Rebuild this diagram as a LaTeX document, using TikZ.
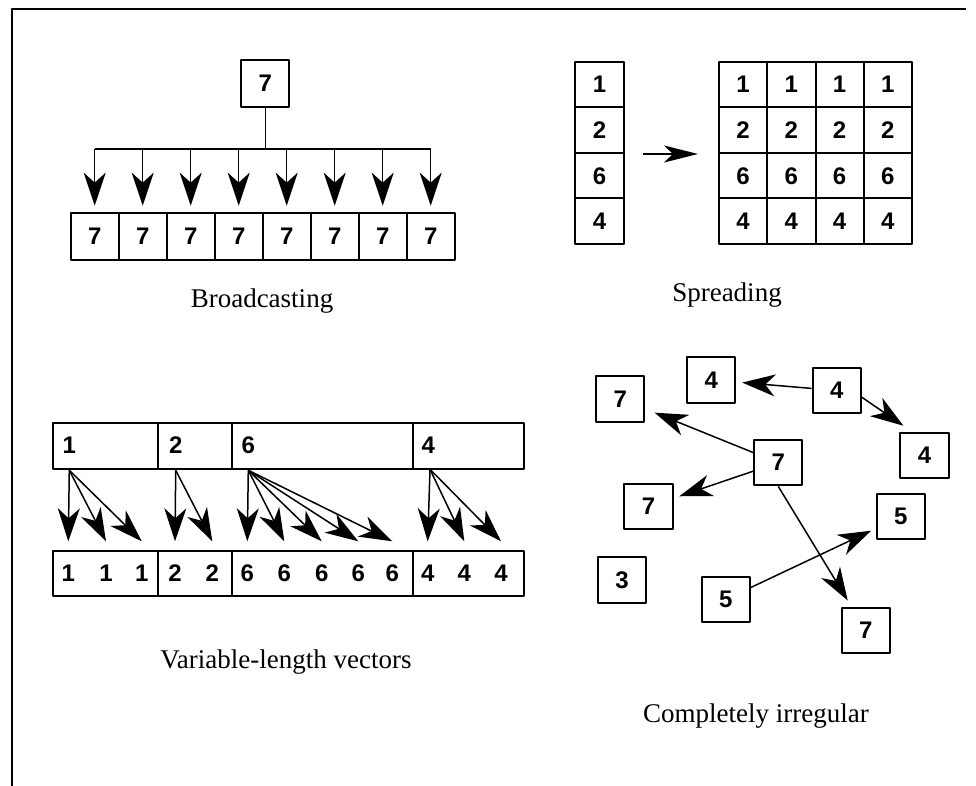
\documentclass[tikz,border=0pt]{standalone}
\usepackage{fontspec}
\setmainfont{Liberation Serif}
\setsansfont{Liberation Sans}
\usetikzlibrary{arrows.meta}
\begin{document}
\begin{tikzpicture}[>={Stealth[length=33bp,width=22bp,inset=10bp]},line join=bevel,
  cell/.style={draw,line width=2bp,minimum width=48.2bp,minimum height=45.5bp,inner sep=0pt,font=\sffamily\bfseries\fontsize{24bp}{24bp}\selectfont},
  num/.style={inner sep=0pt,minimum height=45bp,font=\sffamily\bfseries\fontsize{24bp}{24bp}\selectfont},
  seg/.style={draw,line width=2bp,minimum height=46bp,inner sep=0pt},
  caption/.style={anchor=base,inner sep=0pt,font=\fontsize{27bp}{27bp}\selectfont},
  flow/.style={->,line width=1.5bp}]
\useasboundingbox (0bp,0bp) rectangle (976bp,786bp);
\draw[line width=2bp] (966bp,777bp) -- (11.7bp,777bp) -- (11.7bp,0bp);
%% broadcasting
\node (bc_src) at (265.3bp,702.7bp) [cell,minimum height=46.7bp] {7};
\node (bc_0) at (94.7bp,549.7bp) [cell,minimum height=47.3bp] {7};
\node (bc_1) at (142.7bp,549.7bp) [cell,minimum height=47.3bp] {7};
\node (bc_2) at (190.7bp,549.7bp) [cell,minimum height=47.3bp] {7};
\node (bc_3) at (238.7bp,549.7bp) [cell,minimum height=47.3bp] {7};
\node (bc_4) at (286.7bp,549.7bp) [cell,minimum height=47.3bp] {7};
\node (bc_5) at (334.7bp,549.7bp) [cell,minimum height=47.3bp] {7};
\node (bc_6) at (382.7bp,549.7bp) [cell,minimum height=47.3bp] {7};
\node (bc_7) at (430.7bp,549.7bp) [cell,minimum height=47.3bp] {7};
\coordinate (bc_l) at (94.7bp,637bp);
\coordinate (bc_r) at (430.7bp,637bp);
\draw [line width=1.5bp] (bc_src) -- (bc_src |- bc_l);
\draw [line width=1.5bp] (bc_l) -- (bc_r);
\draw [flow,shorten >=6bp] (bc_0 |- bc_l) -- (bc_0);
\draw [flow,shorten >=6bp] (bc_1 |- bc_l) -- (bc_1);
\draw [flow,shorten >=6bp] (bc_2 |- bc_l) -- (bc_2);
\draw [flow,shorten >=6bp] (bc_3 |- bc_l) -- (bc_3);
\draw [flow,shorten >=6bp] (bc_4 |- bc_l) -- (bc_4);
\draw [flow,shorten >=6bp] (bc_5 |- bc_l) -- (bc_5);
\draw [flow,shorten >=6bp] (bc_6 |- bc_l) -- (bc_6);
\draw [flow,shorten >=6bp] (bc_7 |- bc_l) -- (bc_7);
\node (cap_bc) at (262bp,478bp) [caption] {Broadcasting};
%% spreading
\node (sp_1) at (599.5bp,701.25bp) [cell,minimum width=49bp] {1};
\node (sp_2) at (599.5bp,655.75bp) [cell,minimum width=49bp] {2};
\node (sp_3) at (599.5bp,610.25bp) [cell,minimum width=49bp] {6};
\node (sp_4) at (599.5bp,564.75bp) [cell,minimum width=49bp] {4};
\node (sp_1_1) at (743.1bp,701.25bp) [cell] {1};
\node (sp_1_2) at (791.4bp,701.25bp) [cell] {1};
\node (sp_1_3) at (839.6bp,701.25bp) [cell] {1};
\node (sp_1_4) at (887.9bp,701.25bp) [cell] {1};
\node (sp_2_1) at (743.1bp,655.75bp) [cell] {2};
\node (sp_2_2) at (791.4bp,655.75bp) [cell] {2};
\node (sp_2_3) at (839.6bp,655.75bp) [cell] {2};
\node (sp_2_4) at (887.9bp,655.75bp) [cell] {2};
\node (sp_3_1) at (743.1bp,610.25bp) [cell] {6};
\node (sp_3_2) at (791.4bp,610.25bp) [cell] {6};
\node (sp_3_3) at (839.6bp,610.25bp) [cell] {6};
\node (sp_3_4) at (887.9bp,610.25bp) [cell] {6};
\node (sp_4_1) at (743.1bp,564.75bp) [cell] {4};
\node (sp_4_2) at (791.4bp,564.75bp) [cell] {4};
\node (sp_4_3) at (839.6bp,564.75bp) [cell] {4};
\node (sp_4_4) at (887.9bp,564.75bp) [cell] {4};
\draw [->,>={Stealth[length=34bp,width=17bp,inset=9bp]},line width=1.5bp,shorten <=18bp,shorten >=20bp] (sp_2.south east) -- (sp_2_1.south west);
\node (cap_sp) at (727bp,484bp) [caption] {Spreading};
%% variable-length vectors
\node (vl_t1) at (105.5bp,339.7bp) [seg,minimum width=105.6bp] {};
\node (vl_t2) at (195.3bp,339.7bp) [seg,minimum width=74bp] {};
\node (vl_t6) at (322.5bp,339.7bp) [seg,minimum width=180.4bp] {};
\node (vl_t4) at (468.5bp,339.7bp) [seg,minimum width=111.6bp] {};
\node (vl_l1) at (69.3bp,341bp) [num] {1};
\node (vl_l2) at (175.7bp,341bp) [num] {2};
\node (vl_l6) at (248.3bp,341bp) [num] {6};
\node (vl_l4) at (428.3bp,341bp) [num] {4};
\node (vl_b1) at (105.5bp,212.6bp) [seg,minimum width=105.6bp,minimum height=45.3bp] {};
\node (vl_b2) at (195.3bp,212.6bp) [seg,minimum width=74bp,minimum height=45.3bp] {};
\node (vl_b6) at (322.5bp,212.6bp) [seg,minimum width=180.4bp,minimum height=45.3bp] {};
\node (vl_b4) at (468.5bp,212.6bp) [seg,minimum width=111.6bp,minimum height=45.3bp] {};
\node (vl_d1_1) at (68.3bp,213bp) [num] {1};
\node (vl_d1_2) at (106bp,213bp) [num] {1};
\node (vl_d1_3) at (141.7bp,213bp) [num] {1};
\node (vl_d2_1) at (175bp,213bp) [num] {2};
\node (vl_d2_2) at (212.3bp,213bp) [num] {2};
\node (vl_d6_1) at (247.3bp,213bp) [num] {6};
\node (vl_d6_2) at (284.3bp,213bp) [num] {6};
\node (vl_d6_3) at (321.7bp,213bp) [num] {6};
\node (vl_d6_4) at (358.3bp,213bp) [num] {6};
\node (vl_d6_5) at (392.3bp,213bp) [num] {6};
\node (vl_d4_1) at (427.7bp,213bp) [num] {4};
\node (vl_d4_2) at (464.3bp,213bp) [num] {4};
\node (vl_d4_3) at (501bp,213bp) [num] {4};
\coordinate (vl_o1) at (vl_l1 |- vl_t1.south);
\coordinate (vl_o2) at (vl_l2 |- vl_t2.south);
\coordinate (vl_o6) at (vl_l6 |- vl_t6.south);
\coordinate (vl_o4) at (430bp,316.7bp);
\draw [flow] (vl_o1) -- ([yshift=9bp]vl_d1_1.north);
\draw [flow] (vl_o1) -- ([yshift=9bp]vl_d1_2.north);
\draw [flow] (vl_o1) -- ([yshift=9bp]vl_d1_3.north);
\draw [flow] (vl_o2) -- ([yshift=9bp]vl_d2_1.north);
\draw [flow] (vl_o2) -- ([yshift=9bp]vl_d2_2.north);
\draw [flow] (vl_o6) -- ([yshift=9bp]vl_d6_1.north);
\draw [flow] (vl_o6) -- ([yshift=9bp]vl_d6_2.north);
\draw [flow] (vl_o6) -- ([yshift=9bp]vl_d6_3.north);
\draw [flow] (vl_o6) -- ([yshift=9bp]vl_d6_4.north);
\draw [flow] (vl_o6) -- ([yshift=9bp]vl_d6_5.north);
\draw [flow] (vl_o4) -- ([yshift=9bp]vl_d4_1.north);
\draw [flow] (vl_o4) -- ([yshift=9bp]vl_d4_2.north);
\draw [flow] (vl_o4) -- ([yshift=9bp]vl_d4_3.north);
\node (cap_vl) at (286bp,117bp) [caption] {Variable-length vectors};
%% completely irregular
\node (ir_4a) at (711.2bp,406bp) [cell] {4};
\node (ir_4s) at (836.7bp,395.5bp) [cell] {4};
\node (ir_4b) at (924.5bp,330.5bp) [cell] {4};
\node (ir_7a) at (620.2bp,387.2bp) [cell] {7};
\node (ir_7s) at (778.3bp,323.3bp) [cell] {7};
\node (ir_7b) at (648.5bp,279.3bp) [cell] {7};
\node (ir_5b) at (900.8bp,269.3bp) [cell] {5};
\node (ir_3) at (622bp,206bp) [cell] {3};
\node (ir_5s) at (725.8bp,186.7bp) [cell] {5};
\node (ir_7c) at (865.8bp,155.7bp) [cell] {7};
\draw [flow,shorten >=6bp] (ir_4s) -- (ir_4a);
\draw [flow] (ir_4s.-15) -- ([shift={(4bp,6bp)}]ir_4b.north west);
\draw [flow,shorten >=10bp] (ir_7s) -- (ir_7a);
\draw [flow,shorten >=6bp] (ir_7s) -- (ir_7b);
\draw [flow,shorten >=7bp] (ir_7s.south) -- (ir_7c);
\draw [flow,shorten >=5bp] (ir_5s) -- (ir_5b);
\node (cap_ir) at (756bp,63bp) [caption] {Completely irregular};
%
\end{tikzpicture}
\end{document}
